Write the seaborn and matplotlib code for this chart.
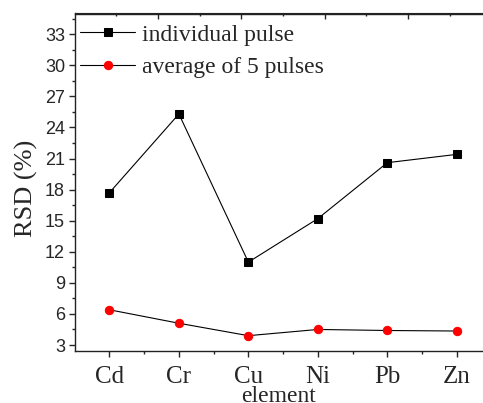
import numpy as np
import matplotlib
matplotlib.use("Agg")
import matplotlib.pyplot as plt
import seaborn as sns
from matplotlib.ticker import MultipleLocator, FixedLocator

elements = ["Cd", "Cr", "Cu", "Ni", "Pb", "Zn"]
individual_pulse = [17.7, 25.3, 11.0, 15.2, 20.6, 21.4]
average_5_pulses = [6.4, 5.1, 3.9, 4.5, 4.4, 4.35]
y_ticks = [3, 6, 9, 12, 15, 18, 21, 24, 27, 30, 33]

sns.set_style("ticks")
plt.rcParams["font.family"] = ["Liberation Serif", "DejaVu Serif"]

fig = plt.figure(figsize=(4.83, 4.03), dpi=100)
L, R, B, T = 74.7, 491.5, 350.7, 13.5
ax = fig.add_axes([L / 483, 1 - B / 403, (R - L) / 483, (B - T) / 403])

pos = np.arange(len(elements))
sns.lineplot(x=pos, y=individual_pulse, ax=ax, color="black", linewidth=0.8,
             marker="s", markersize=5.4, markerfacecolor="black",
             markeredgecolor="black", label="individual pulse")
sns.lineplot(x=pos, y=average_5_pulses, ax=ax, color="black", linewidth=0.8,
             marker="o", markersize=6.0, markerfacecolor="red",
             markeredgecolor="red", label="average of 5 pulses")

ax.set_xlim(-0.5, 5.5)
ax.set_ylim(2.45, 35)
ax.set_xticks(pos)
ax.set_xticklabels(elements, fontsize=18, family=["Liberation Serif"])
ax.xaxis.set_minor_locator(FixedLocator(pos[:-1] + 0.5))
ax.set_yticks(y_ticks)
ax.set_yticklabels([str(v) for v in y_ticks], fontsize=13, family=["Liberation Sans"])
ax.yaxis.set_minor_locator(MultipleLocator(1.5))

ax.tick_params(axis="x", which="major", direction="out", length=4, width=1, pad=7)
ax.tick_params(axis="x", which="minor", direction="out", length=2.2, width=1)
ax.tick_params(axis="y", which="major", direction="out", length=4, width=1, pad=3)
ax.tick_params(axis="y", which="minor", direction="out", length=2.2, width=1)

for s in ["left", "bottom", "top", "right"]:
    ax.spines[s].set_color("#222222")
    ax.spines[s].set_linewidth(1.0)

sec = ax.secondary_xaxis("top")
sec.set_xticks([0.7, 1.9, 3.1, 4.3])
sec.set_xticklabels([])
sec.xaxis.set_minor_locator(FixedLocator([0.1, 1.3, 2.5, 3.7, 4.9]))
sec.tick_params(which="major", direction="in", length=4, width=1)
sec.tick_params(which="minor", direction="in", length=2.2, width=1)
sec.spines["top"].set_color("#222222")

ax.set_xlabel("element", fontsize=17)
ax.xaxis.set_label_coords(0.49, -0.106)
ax.set_ylabel("RSD (%)", fontsize=19)
ax.yaxis.set_label_coords(-0.088, 0.48)

leg = ax.legend(loc="upper left", bbox_to_anchor=(80 / 483, 1 - 24 / 403),
                bbox_transform=fig.transFigure, frameon=False, fontsize=17,
                handlelength=2.33, handletextpad=0.28, labelspacing=0.46,
                borderpad=0, borderaxespad=0)

fig.savefig("out.png", dpi=100)
